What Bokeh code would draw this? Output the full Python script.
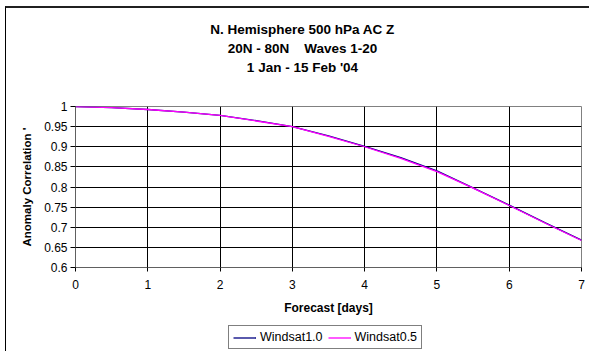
from bokeh.plotting import figure
from bokeh.layouts import column
from bokeh.models import Legend, LegendItem, FixedTicker, Range1d, Label
from bokeh.embed import file_html
from bokeh.resources import INLINE

# ---- data ----
days = [0, 0.5, 1, 1.5, 2, 2.5, 3, 3.5, 4, 4.5, 5, 5.5, 6, 6.5, 7]
windsat10 = [1.0, 0.997, 0.9925, 0.986, 0.978, 0.965, 0.950, 0.927, 0.901, 0.873, 0.840, 0.798, 0.755, 0.711, 0.668]
windsat05 = [1.0, 0.997, 0.9925, 0.986, 0.978, 0.964, 0.950, 0.926, 0.900, 0.871, 0.838, 0.797, 0.754, 0.710, 0.667]
series_names = ["Windsat1.0", "Windsat0.5"]
series_colors = ["#000080", "#FF00FF"]
x_ticks = [0, 1, 2, 3, 4, 5, 6, 7]
y_ticks = [0.6, 0.65, 0.7, 0.75, 0.8, 0.85, 0.9, 0.95, 1.0]
y_tick_labels = ["0.6", "0.65", "0.7", "0.75", "0.8", "0.85", "0.9", "0.95", "1"]
title_lines = ["N. Hemisphere 500 hPa AC Z",
               "20N - 80N \u00a0\u00a0 Waves 1-20",
               "1 Jan - 15 Feb '04"]
x_label = "Forecast [days]"
y_label = "Anomaly Correlation '"

FONT = "Liberation Sans"
W = 583


def blank_figure(height, xr=(0, 1), yr=(0, 1)):
    f = figure(width=W, height=height, output_backend="svg", toolbar_location=None,
               x_range=Range1d(*xr), y_range=Range1d(*yr),
               x_axis_type=None, y_axis_type=None,
               min_border_left=69, min_border_right=8, min_border_top=0, min_border_bottom=0)
    f.outline_line_color = None
    f.background_fill_color = "white"
    f.border_fill_color = "white"
    f.grid.visible = False
    return f


# ---- title strip (frame aligned with the chart's plot area) ----
pt = blank_figure(72)
for i, line in enumerate(title_lines):
    pt.add_layout(Label(x=227, y=51 - 19 * i, x_units="screen", y_units="screen",
                        text=line, text_font=FONT, text_font_size="13.5px",
                        text_font_style="bold", text_align="center",
                        text_baseline="middle", text_color="black"))

# ---- main chart ----
p = figure(width=W, height=242, output_backend="svg", toolbar_location=None,
           x_range=Range1d(0, 7), y_range=Range1d(0.6, 1.0),
           min_border_left=69, min_border_right=8, min_border_top=26, min_border_bottom=55)
p.background_fill_color = "white"
p.border_fill_color = "white"
p.outline_line_color = "#808080"
p.outline_line_width = 1

for g in (p.xgrid, p.ygrid):
    g.grid_line_color = "black"
    g.grid_line_width = 1
p.xgrid.ticker = FixedTicker(ticks=x_ticks)
p.ygrid.ticker = FixedTicker(ticks=y_ticks)

p.xaxis.ticker = FixedTicker(ticks=x_ticks)
p.yaxis.ticker = FixedTicker(ticks=y_ticks)
p.yaxis.major_label_overrides = {t: s for t, s in zip(y_ticks, y_tick_labels)}
for ax in (p.xaxis[0], p.yaxis[0]):
    ax.axis_line_color = "#606060"
    ax.major_tick_line_color = "black"
    ax.minor_tick_line_color = None
    ax.major_tick_in = 0
    ax.major_label_text_font = FONT
    ax.major_label_text_font_size = "12px"
    ax.major_label_text_color = "black"
    ax.axis_label_text_font = FONT
    ax.axis_label_text_font_style = "bold"
    ax.axis_label_text_color = "black"
p.xaxis.axis_label_text_font_size = "12px"
p.yaxis.axis_label_text_font_size = "11.5px"
p.xaxis.major_tick_out = 4
p.yaxis.major_tick_out = 5
p.xaxis.major_label_standoff = 8
p.yaxis.major_label_standoff = 3
p.xaxis.axis_label = x_label
p.yaxis.axis_label = y_label
p.xaxis.axis_label_standoff = 9
p.yaxis.axis_label_standoff = 8

p.line(days, windsat10, line_color=series_colors[0], line_width=1.3)
p.line(days, windsat05, line_color=series_colors[1], line_width=1.3)

# ---- legend strip (its lines lie outside its visible range; only the key shows) ----
pl = blank_figure(29, xr=(100, 101), yr=(100, 101))
l1 = pl.line(days, windsat10, line_color=series_colors[0], line_width=1.3)
l2 = pl.line(days, windsat05, line_color=series_colors[1], line_width=1.3)
legend = Legend(items=[LegendItem(label=series_names[0], renderers=[l1]),
                       LegendItem(label=series_names[1], renderers=[l2])],
                orientation="horizontal", location=(153, 2))
legend.label_text_font = FONT
legend.label_text_font_size = "12.5px"
legend.label_text_color = "black"
legend.glyph_width = 23
legend.glyph_height = 13
legend.label_height = 13
legend.label_standoff = 4
legend.spacing = 5
legend.padding = 4
legend.margin = 0
legend.border_line_color = "black"
legend.border_line_width = 1
legend.background_fill_color = "white"
legend.background_fill_alpha = 1
pl.add_layout(legend, "center")

layout = column(pt, p, pl, spacing=0)
layout.styles = {"border-left": "1px solid black", "border-top": "2px solid #202020",
                 "margin-left": "5px", "margin-top": "6px"}

open("out.html", "w").write(file_html(layout, INLINE))
